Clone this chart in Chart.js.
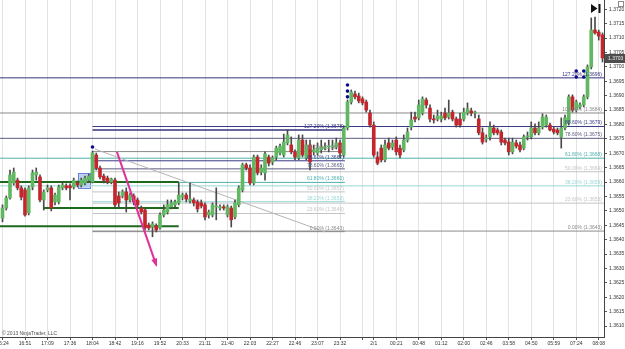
<!DOCTYPE html>
<html><head><meta charset="utf-8">
<script src="https://cdn.jsdelivr.net/npm/chart.js@4.4.0/dist/chart.umd.min.js"></script>
<style>html,body{margin:0;padding:0;background:#fff;}canvas{display:block;}</style>
</head><body>
<canvas id="c" width="625" height="349"></canvas>
<script>
// ---- data ----
const opens = [1.36475,1.36510,1.36545,1.36597,1.36607,1.36580,1.36573,1.36493,1.36583,1.36625,
1.36618,1.36538,1.36573,1.36580,1.36531,1.36531,1.36580,1.36587,1.36587,1.36583,
1.36597,1.36590,1.36597,1.36607,1.36600,1.36694,1.36649,1.36621,1.36614,1.36600,
1.36607,1.36552,1.36552,1.36566,1.36538,1.36552,1.36538,1.36510,1.36503,1.36451,
1.36444,1.36448,1.36441,1.36486,1.36496,1.36514,1.36521,1.36528,1.36548,1.36555,
1.36535,1.36538,1.36531,1.36528,1.36521,1.36486,1.36486,1.36514,1.36510,1.36514,
1.36486,1.36510,1.36479,1.36521,1.36573,1.36660,1.36649,1.36597,1.36687,1.36635,
1.36632,1.36687,1.36670,1.36687,1.36701,1.36694,1.36736,1.36729,1.36705,1.36684,
1.36746,1.36684,1.36729,1.36705,1.36701,1.36712,1.36718,1.36722,1.36722,1.36722,
1.36736,1.36694,1.36788,1.36878,1.36906,1.36899,1.36889,1.36878,1.36840,1.36798,
1.36687,1.36718,1.36677,1.36736,1.36722,1.36746,1.36718,1.36712,1.36746,1.36791,
1.36826,1.36823,1.36840,1.36885,1.36857,1.36819,1.36819,1.36819,1.36840,1.36826,
1.36843,1.36819,1.36819,1.36819,1.36840,1.36847,1.36840,1.36819,1.36771,1.36750,
1.36757,1.36788,1.36781,1.36774,1.36746,1.36739,1.36705,1.36736,1.36729,1.36718,
1.36757,1.36757,1.36788,1.36771,1.36791,1.36798,1.36798,1.36784,1.36781,1.36757,
1.36788,1.36805,1.36896,1.36850,1.36861,1.36868,1.36896,1.37000,1.37128,1.37121,
1.37111];
const highs = [1.36521,1.36552,1.36642,1.36649,1.36614,1.36587,1.36580,1.36587,1.36642,1.36649,
1.36625,1.36573,1.36590,1.36587,1.36562,1.36590,1.36600,1.36594,1.36594,1.36614,
1.36604,1.36614,1.36621,1.36628,1.36708,1.36701,1.36656,1.36628,1.36621,1.36614,
1.36614,1.36566,1.36573,1.36580,1.36562,1.36559,1.36545,1.36517,1.36510,1.36458,
1.36462,1.36455,1.36493,1.36521,1.36538,1.36538,1.36538,1.36597,1.36562,1.36562,
1.36597,1.36545,1.36538,1.36538,1.36528,1.36503,1.36528,1.36580,1.36521,1.36521,
1.36521,1.36517,1.36538,1.36587,1.36666,1.36666,1.36660,1.36694,1.36694,1.36660,
1.36705,1.36694,1.36691,1.36725,1.36732,1.36767,1.36781,1.36757,1.36712,1.36764,
1.36764,1.36746,1.36746,1.36729,1.36736,1.36746,1.36736,1.36746,1.36746,1.36753,
1.36746,1.36795,1.36885,1.36920,1.36916,1.36909,1.36896,1.36885,1.36850,1.36809,
1.36705,1.36729,1.36746,1.36753,1.36746,1.36757,1.36729,1.36764,1.36788,1.36843,
1.36843,1.36885,1.36896,1.36892,1.36868,1.36833,1.36850,1.36843,1.36857,1.36885,
1.36850,1.36826,1.36840,1.36857,1.36875,1.36857,1.36847,1.36833,1.36788,1.36764,
1.36809,1.36798,1.36788,1.36781,1.36753,1.36753,1.36753,1.36746,1.36739,1.36764,
1.36774,1.36809,1.36802,1.36809,1.36837,1.36833,1.36805,1.36791,1.36788,1.36823,
1.36833,1.36903,1.36903,1.36885,1.36875,1.36903,1.37007,1.37170,1.37173,1.37128,
1.37118];
const lows = [1.36462,1.36503,1.36541,1.36590,1.36573,1.36538,1.36482,1.36486,1.36573,1.36607,
1.36531,1.36503,1.36566,1.36500,1.36521,1.36524,1.36573,1.36573,1.36538,1.36576,
1.36583,1.36583,1.36590,1.36600,1.36597,1.36642,1.36611,1.36597,1.36594,1.36594,
1.36514,1.36510,1.36545,1.36496,1.36531,1.36521,1.36514,1.36489,1.36434,1.36434,
1.36410,1.36427,1.36437,1.36479,1.36489,1.36507,1.36514,1.36521,1.36538,1.36531,
1.36528,1.36517,1.36496,1.36510,1.36469,1.36475,1.36479,1.36469,1.36503,1.36503,
1.36479,1.36444,1.36472,1.36514,1.36566,1.36642,1.36590,1.36590,1.36625,1.36625,
1.36607,1.36656,1.36660,1.36677,1.36694,1.36687,1.36729,1.36698,1.36677,1.36677,
1.36687,1.36677,1.36642,1.36694,1.36694,1.36701,1.36712,1.36705,1.36712,1.36715,
1.36684,1.36687,1.36781,1.36871,1.36889,1.36875,1.36868,1.36843,1.36791,1.36687,
1.36660,1.36670,1.36670,1.36712,1.36712,1.36694,1.36684,1.36705,1.36739,1.36781,
1.36809,1.36816,1.36833,1.36857,1.36809,1.36805,1.36812,1.36809,1.36816,1.36819,
1.36812,1.36791,1.36791,1.36812,1.36833,1.36830,1.36823,1.36764,1.36732,1.36739,
1.36746,1.36764,1.36764,1.36729,1.36729,1.36694,1.36698,1.36718,1.36705,1.36712,
1.36746,1.36750,1.36764,1.36764,1.36784,1.36791,1.36778,1.36767,1.36764,1.36718,
1.36781,1.36798,1.36843,1.36843,1.36854,1.36861,1.36889,1.36993,1.37114,1.37093,
1.37017];
const closes = [1.36510,1.36545,1.36625,1.36635,1.36580,1.36548,1.36486,1.36580,1.36632,1.36635,
1.36538,1.36566,1.36580,1.36510,1.36555,1.36583,1.36590,1.36580,1.36580,1.36607,
1.36590,1.36607,1.36614,1.36621,1.36701,1.36649,1.36618,1.36607,1.36600,1.36611,
1.36521,1.36528,1.36566,1.36538,1.36555,1.36531,1.36521,1.36496,1.36441,1.36441,
1.36455,1.36434,1.36486,1.36503,1.36521,1.36528,1.36531,1.36555,1.36555,1.36541,
1.36541,1.36528,1.36507,1.36517,1.36479,1.36496,1.36521,1.36517,1.36514,1.36510,
1.36514,1.36469,1.36528,1.36580,1.36660,1.36649,1.36597,1.36687,1.36632,1.36649,
1.36698,1.36666,1.36684,1.36718,1.36725,1.36739,1.36764,1.36705,1.36687,1.36746,
1.36694,1.36729,1.36670,1.36712,1.36718,1.36722,1.36722,1.36725,1.36725,1.36736,
1.36701,1.36788,1.36878,1.36913,1.36896,1.36882,1.36875,1.36850,1.36798,1.36694,
1.36666,1.36677,1.36729,1.36718,1.36736,1.36705,1.36694,1.36746,1.36774,1.36816,
1.36819,1.36868,1.36889,1.36868,1.36819,1.36816,1.36830,1.36830,1.36823,1.36840,
1.36819,1.36798,1.36798,1.36843,1.36854,1.36840,1.36843,1.36771,1.36739,1.36753,
1.36791,1.36771,1.36771,1.36739,1.36736,1.36705,1.36739,1.36725,1.36712,1.36757,
1.36760,1.36788,1.36771,1.36788,1.36826,1.36826,1.36781,1.36774,1.36771,1.36788,
1.36823,1.36896,1.36850,1.36878,1.36868,1.36896,1.37000,1.37128,1.37118,1.37107,
1.37031];

const yTicks = [1.3610,1.3615,1.3620,1.3625,1.3630,1.3635,1.3640,1.3645,1.3650,1.3655,1.3660,1.3665,
1.3670,1.3675,1.3680,1.3685,1.3690,1.3695,1.3700,1.3705,1.3710,1.3715,1.3720];
const xTickBars = [0,6,12,18,24,30,36,42,48,54,60,66,72,78,84,90,96,99,105,111,117,123,129,135,141,147,153,159];
const xTickLabels = ['16:24','16:51','17:09','17:36','18:04','18:42','19:16','19:52','20:33','21:11','21:40','22:03',
'22:27','22:46','23:07','23:32','','2/1','00:21','00:48','01:12','02:00','02:46','03:58','04:50','05:59','07:24','08:08'];

// Fibonacci retracements
const fibPercents = [127.2, 100, 88.6, 78.6, 61.8, 50, 38.2, 23.6, 0];
const leftFibPrices = [1.36781,1.36706,1.36674,1.36646,1.36599,1.36566,1.36532,1.36491,1.36428];
const leftFibSpan = [24, 91.3];
const rightFibPrices = [1.36962,1.36840,1.36793,1.36752,1.36683,1.36636,1.36587,1.36527,1.36430];
const rightFibStart = [-0.7,-0.7,24,-0.7,-0.7,24,-0.7,24,24];
const rightFibEnd = 160.4;
// horizontal support lines (green)
const greenLinePrices = [1.36600, 1.36510, 1.36447];
const greenLineStart = [-0.7, 11, -0.7];
const greenLineEnd = 47;
// trend line and arrow
const trendBars = [24.6, 86];
const trendPrices = [1.36715, 1.36427];
const arrowBars = [30.5, 41.0];
const arrowPrices = [1.36705, 1.36312];
// selection box
const boxBars = [20.1, 23.3];
const boxPrices = [1.36580, 1.36632];
// signal dots
const dotBars = [24, 92, 92, 92, 153, 153, 155, 155];
const dotPrices = [1.36722, 1.36937, 1.36916, 1.36896, 1.36986, 1.36965, 1.36986, 1.36965];

// ---- build chart ----
const FONT = "'Liberation Sans', Arial, sans-serif";
const fibColors = {127.2:'#34347e',100:'#8a8a8a',88.6:'#3a3a86',78.6:'#5a5a80',61.8:'#4fb0b0',50:'#c4c4c4',38.2:'#9ad8d8',23.6:'#c4c4c4',0:'#8a8a8a'};
const idx = closes.map((_, i) => i);
const up = i => closes[i] >= opens[i];

const datasets = [];
datasets.push({type:'bar', label:'body', data: idx.map(i => ({x:i, y:[opens[i], closes[i]]})),
  backgroundColor: idx.map(i => up(i) ? '#62b862' : '#c3262d'),
  borderWidth: 0, barThickness: 3, grouped: false, minBarLength: 1, order: 0});
datasets.push({type:'bar', label:'wick', data: idx.map(i => ({x:i, y:[lows[i], highs[i]]})),
  backgroundColor: '#4a4a4a', barThickness: 1, grouped: false, minBarLength: 1, order: 1});

function hline(x0, x1, p, color, width, order) {
  return {type:'line', data:[{x:x0, y:p},{x:x1, y:p}], borderColor: color, borderWidth: width,
    pointRadius: 0, fill: false, tension: 0, order: order};
}
fibPercents.forEach((pct, k) => {
  datasets.push(hline(rightFibStart[k], rightFibEnd, rightFibPrices[k], fibColors[pct], 1, 6));
  datasets.push(hline(leftFibSpan[0], leftFibSpan[1], leftFibPrices[k], fibColors[pct], pct === 127.2 ? 1.5 : 1, 5));
});
greenLinePrices.forEach((p, k) => datasets.push(hline(greenLineStart[k], greenLineEnd, p, '#1d6a1d', 2, 4)));
datasets.push({type:'line', data:[{x:trendBars[0],y:trendPrices[0]},{x:trendBars[1],y:trendPrices[1]}],
  borderColor:'#b4b4b4', borderWidth:1, pointRadius:0, fill:false, order:4});
datasets.push({type:'line', data:[{x:arrowBars[0],y:arrowPrices[0]},{x:arrowBars[1],y:arrowPrices[1]}],
  borderColor:'#e0309a', borderWidth:2, pointRadius:0, fill:false, order:-2});
datasets.push({type:'line', data: dotBars.map((b, k) => ({x:b, y:dotPrices[k]})), showLine:false,
  pointRadius:1.8, pointBackgroundColor:'#0a0a8c', pointBorderWidth:0, order:-1});

const overlay = {
  id: 'overlay',
  beforeDatasetsDraw(chart) {
    const {ctx, scales:{x, y}} = chart;
    const x0 = x.getPixelForValue(boxBars[0]), x1 = x.getPixelForValue(boxBars[1]);
    const y0 = y.getPixelForValue(boxPrices[1]), y1 = y.getPixelForValue(boxPrices[0]);
    ctx.save();
    ctx.fillStyle = 'rgba(140,165,235,0.55)';
    ctx.fillRect(x0, y0, x1 - x0, y1 - y0);
    ctx.strokeStyle = '#6d84d6'; ctx.lineWidth = 1;
    ctx.strokeRect(Math.round(x0) + 0.5, Math.round(y0) + 0.5, Math.round(x1 - x0), Math.round(y1 - y0));
    ctx.restore();
  },
  afterDatasetsDraw(chart) {
    const {ctx, scales:{x, y}} = chart;
    ctx.save();
    ctx.font = '5px ' + FONT;
    ctx.textAlign = 'right'; ctx.textBaseline = 'bottom';
    fibPercents.forEach((pct, k) => {
      const c = fibColors[pct];
      ctx.fillStyle = c;
      ctx.fillText(pct.toFixed(2) + '% (' + leftFibPrices[k].toFixed(4) + ')', x.getPixelForValue(leftFibSpan[1]) - 1, y.getPixelForValue(leftFibPrices[k]) - 1);
      ctx.fillText(pct.toFixed(2) + '% (' + rightFibPrices[k].toFixed(4) + ')', 602, y.getPixelForValue(rightFibPrices[k]) - 1);
    });
    // arrow head
    const ax0 = x.getPixelForValue(arrowBars[0]), ay0 = y.getPixelForValue(arrowPrices[0]);
    const ax1 = x.getPixelForValue(arrowBars[1]), ay1 = y.getPixelForValue(arrowPrices[1]);
    const ang = Math.atan2(ay1 - ay0, ax1 - ax0), L = 7, W = 0.45;
    ctx.fillStyle = '#e0309a';
    ctx.beginPath();
    ctx.moveTo(ax1 + 2 * Math.cos(ang), ay1 + 2 * Math.sin(ang));
    ctx.lineTo(ax1 - L * Math.cos(ang - W), ay1 - L * Math.sin(ang - W));
    ctx.lineTo(ax1 - L * Math.cos(ang + W), ay1 - L * Math.sin(ang + W));
    ctx.closePath(); ctx.fill();
    // copyright
    ctx.textAlign = 'left'; ctx.textBaseline = 'alphabetic';
    ctx.fillStyle = '#505050';
    ctx.fillText('\u00A9 2013 NinjaTrader, LLC', 2, 335);
    ctx.restore();
  },
  afterDraw(chart) {
    const {ctx, scales:{y}} = chart;
    ctx.save();
    const last = closes[closes.length - 1];
    const py = y.getPixelForValue(last);
    ctx.fillStyle = '#4d4d4d';
    ctx.fillRect(605, Math.round(py) - 4, 20, 9);
    ctx.fillStyle = '#f0f0f0';
    ctx.font = '5px ' + FONT; ctx.textAlign = 'left'; ctx.textBaseline = 'middle';
    ctx.fillText(last.toFixed(4), 608, Math.round(py) + 0.5);
    // top-right icons
    ctx.fillStyle = '#111';
    ctx.beginPath(); ctx.moveTo(591, 4); ctx.lineTo(591, 13); ctx.lineTo(597.5, 8.5); ctx.closePath(); ctx.fill();
    ctx.fillRect(598.5, 4, 2, 9);
    ctx.strokeStyle = '#8a8a8a'; ctx.lineWidth = 1;
    ctx.strokeRect(618.5, 1.5, 5, 5);
    ctx.restore();
  }
};

new Chart(document.getElementById('c'), {
  type: 'bar',
  data: { datasets },
  options: {
    responsive: false, animation: false, devicePixelRatio: 1,
    layout: { padding: 0, autoPadding: false },
    plugins: { legend: {display:false}, tooltip: {enabled:false} },
    scales: {
      x: {
        type: 'linear', min: -0.667, max: 160.4, offset: false,
        grid: { offset: false, color: '#e3e3e3', tickColor: '#555', tickLength: 3, lineWidth: 1 },
        border: { display: true, color: '#444' },
        ticks: { autoSkip: false, maxRotation: 0, padding: 1, color: '#333', font: {size: 5, family: FONT},
          callback: (v, i) => xTickLabels[i] },
        afterBuildTicks: s => { s.ticks = xTickBars.map(v => ({value: v})); },
        afterFit: s => { s.height = 12; s.paddingLeft = 0; s.paddingRight = 0; }
      },
      y: {
        type: 'linear', position: 'right', min: 1.360622, max: 1.372323, beginAtZero: false,
        grid: { drawOnChartArea: false, color: '#555', tickLength: 3 },
        border: { display: true, color: '#444' },
        ticks: { padding: 2, color: '#333', font: {size: 5, family: FONT}, callback: v => Number(v).toFixed(4) },
        afterBuildTicks: s => { s.ticks = yTicks.map(v => ({value: v})); },
        afterFit: s => { s.width = 21; s.paddingTop = 0; s.paddingBottom = 0; }
      }
    }
  },
  plugins: [overlay]
});
</script>
</body></html>
